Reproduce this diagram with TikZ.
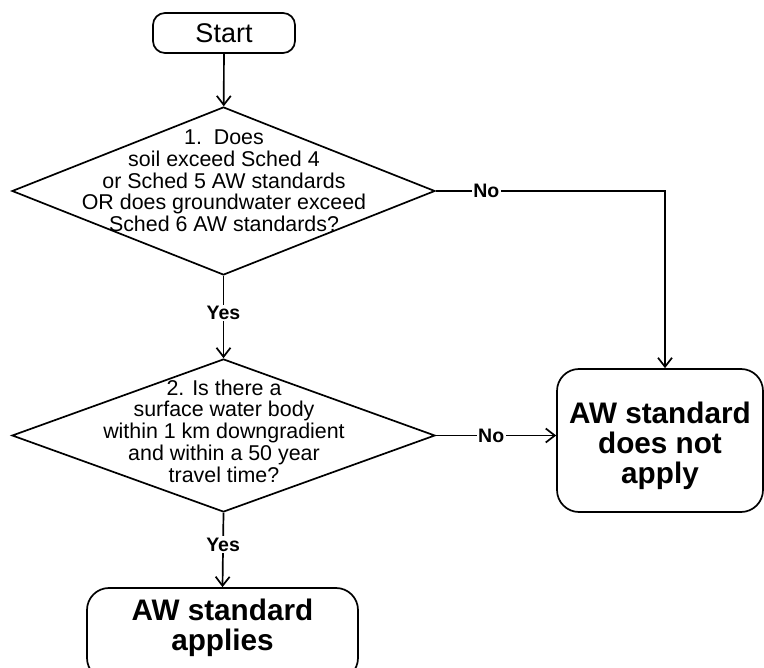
\documentclass[tikz,border=0pt]{standalone}
\usepackage{fontspec}
\setmainfont{Liberation Sans}
\usetikzlibrary{shapes.geometric,arrows.meta}

\begin{document}
\begin{tikzpicture}[x=1pt,y=-1pt,
  flow/.style={line width=1.7pt},
  arr/.style={flow,-{Straight Barb[length=9pt,width=14pt,line width=1.7pt]}},
  decision/.style={draw,line width=1.7pt,diamond,inner sep=0pt,
    minimum width=423pt},
  question/.style={align=center,font=\fontsize{21.4}{21.7}\selectfont,inner sep=0pt},
  terminal/.style={draw,line width=1.7pt,rectangle,align=center,inner sep=0pt},
  outcome/.style={terminal,rounded corners=22pt},
  outcometext/.style={align=center,inner sep=0pt,
    font=\bfseries\fontsize{29.7}{30}\selectfont},
  lab/.style={fill=white,inner sep=1.5pt,font=\bfseries\fontsize{19.5}{21}\selectfont}
]
\fill[white] (0,0) rectangle (764,668);
\useasboundingbox (0,0) rectangle (764,668);

% start terminal
\node[terminal,rounded corners=12pt,minimum width=142pt,minimum height=40pt,
      font=\fontsize{27}{30}\selectfont] (start) at (224,33) {Start};

% decision 1
\node[decision,minimum height=168pt] (d1) at (223.5,191) {};
\node[question] (q1) at (224,181) {1.\ \ Does\\soil exceed Sched 4\\or Sched 5 AW standards\\OR does groundwater exceed\\Sched 6 AW standards?};

% decision 2
\node[decision,minimum height=153pt] (d2) at (223.5,435.5) {};
\node[question] (q2) at (224,431) {2. Is there a\\surface water body\\within 1 km downgradient\\and within a 50 year\\travel time?};

% outcomes
\node[outcome,minimum width=206pt,minimum height=143pt] (noapply) at (660,440.5) {};
\node[outcometext] (t1) at (660,446) {AW standard\\does not\\apply};
\node[outcome,minimum width=271pt,minimum height=92pt] (applies) at (222.5,634) {};
\node[outcometext] (t2) at (222.5,628) {AW standard\\applies};

% connectors
\draw[arr] (start) -- (d1);
\draw[arr] (d1.south) -- node[lab,pos=0.45] {Yes} (d2.north);
\draw[arr] (d2.south) -- node[lab,pos=0.43] {Yes} (applies.north);
\coordinate (k1) at (665,191);
\draw[arr] (d1.east) -- node[lab,pos=0.22] {No} (k1) -- (k1 |- noapply.north);
\draw[arr] (d2.east) -- node[lab,pos=0.46] {No} (d2.east -| noapply.west);
\end{tikzpicture}
\end{document}
